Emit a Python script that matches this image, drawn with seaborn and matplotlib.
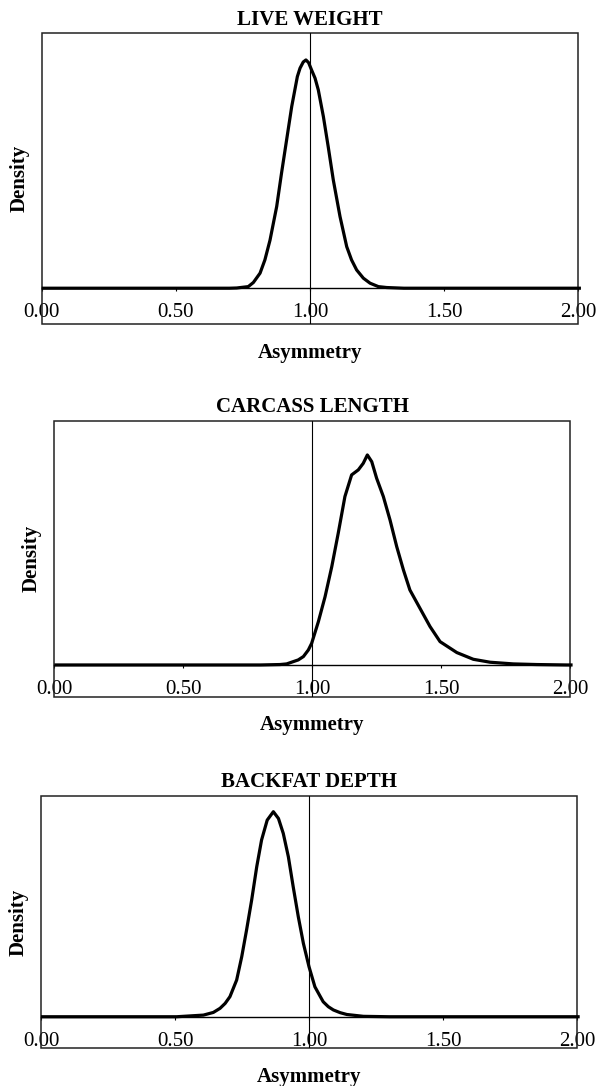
import matplotlib
matplotlib.use("Agg")
import matplotlib.pyplot as plt
import seaborn as sns
from matplotlib.patches import Rectangle
from matplotlib.ticker import FormatStrFormatter

# Кривые плотности (высота в долях от пика)
live_x = [0.0, 0.70, 0.727, 0.770, 0.789, 0.814, 0.832, 0.851, 0.876, 0.894, 0.913, 0.932,
          0.953, 0.963, 0.975, 0.985, 0.995, 1.006, 1.019, 1.031, 1.050, 1.068, 1.087,
          1.112, 1.137, 1.155, 1.174, 1.199, 1.224, 1.255, 1.286, 1.35, 2.01]
live_y = [0.0, 0.0, 0.001, 0.007, 0.025, 0.066, 0.124, 0.21, 0.358, 0.504, 0.65, 0.796,
          0.927, 0.964, 0.991, 1.0, 0.988, 0.956, 0.920, 0.869, 0.752, 0.62, 0.474,
          0.314, 0.182, 0.124, 0.08, 0.044, 0.022, 0.007, 0.003, 0.0, 0.0]

length_x = [0.0, 0.80, 0.875, 0.901, 0.927, 0.946, 0.966, 0.985, 0.998, 1.024, 1.050, 1.076,
            1.101, 1.127, 1.153, 1.179, 1.198, 1.214, 1.231, 1.250, 1.276, 1.302, 1.328,
            1.354, 1.379, 1.418, 1.457, 1.496, 1.561, 1.625, 1.690, 1.780, 1.871, 1.987, 2.01]
length_y = [0.0, 0.0, 0.002, 0.005, 0.016, 0.024, 0.040, 0.071, 0.103, 0.206, 0.325, 0.468,
            0.627, 0.802, 0.905, 0.929, 0.960, 1.0, 0.968, 0.889, 0.802, 0.690, 0.563,
            0.452, 0.357, 0.270, 0.183, 0.111, 0.059, 0.027, 0.013, 0.005, 0.002, 0.0, 0.0]

backfat_x = [0.0, 0.506, 0.606, 0.643, 0.668, 0.687, 0.705, 0.730, 0.749, 0.767, 0.786, 0.805,
             0.823, 0.844, 0.867, 0.886, 0.904, 0.923, 0.941, 0.960, 0.979, 1.000, 1.022,
             1.041, 1.053, 1.072, 1.091, 1.116, 1.141, 1.203, 1.30, 2.01]
backfat_y = [0.0, 0.0, 0.008, 0.021, 0.041, 0.065, 0.098, 0.179, 0.293, 0.423, 0.569, 0.732,
             0.862, 0.959, 1.0, 0.967, 0.894, 0.78, 0.634, 0.488, 0.358, 0.244, 0.146,
             0.101, 0.073, 0.049, 0.033, 0.020, 0.011, 0.002, 0.0, 0.0]

titles = ["LIVE WEIGHT", "CARCASS LENGTH", "BACKFAT DEPTH"]
x_ticks = [0.0, 0.5, 1.0, 1.5, 2.0]

sns.set_style("white")
plt.rcParams["font.family"] = ["Liberation Serif", "DejaVu Serif"]
plt.rcParams["text.color"] = "black"
plt.rcParams["axes.labelcolor"] = "black"

fig = plt.figure(figsize=(5.97, 10.86), dpi=100)

# положение осей на фигуре и пределы по y (ноль чуть выше нижней рамки)
panels = [
    (live_x, live_y, [0.0698, 0.7014, 0.8988, 0.2680], (-0.158, 1.117)),
    (length_x, length_y, [0.0910, 0.3585, 0.8638, 0.2541], (-0.151, 1.163)),
    (backfat_x, backfat_y, [0.0687, 0.0347, 0.8978, 0.2326], (-0.154, 1.078)),
]

for (xs, ys, rect, ylim), title in zip(panels, titles):
    ax = fig.add_axes(rect)
    sns.lineplot(x=xs, y=ys, ax=ax, color="black", lw=2.3, clip_on=False, zorder=3,
                 solid_joinstyle="round", solid_capstyle="butt")
    ax.axvline(1.0, color="black", lw=0.8)
    ax.set_xlim(0, 2)
    ax.set_ylim(*ylim)

    # рамка вокруг графика, ось x проходит по нулю
    for side in ["top", "left", "right"]:
        ax.spines[side].set_visible(False)
    ax.spines["bottom"].set_position(("data", 0))
    ax.spines["bottom"].set_color("black")
    ax.spines["bottom"].set_linewidth(1.0)
    ax.add_patch(Rectangle((0, 0), 1, 1, transform=ax.transAxes, fill=False,
                           edgecolor="#222222", lw=1.1, clip_on=False))

    ax.set_xticks(x_ticks)
    ax.xaxis.set_major_formatter(FormatStrFormatter("%.2f"))
    ax.tick_params(axis="x", bottom=True, direction="out", length=2.5, width=0.8,
                   pad=8.5, labelsize=15, colors="black")
    ax.set_yticks([])

    ax.set_title(title, fontsize=15, fontweight="bold", pad=6)
    ax.set_ylabel("Density", fontsize=15, fontweight="bold", labelpad=9)
    ax.set_xlabel("Asymmetry", fontsize=15, fontweight="bold")
    h_px = rect[3] * 1086
    ax.xaxis.set_label_coords(0.5, -18.5 / h_px)

fig.savefig("out.png", dpi=100)
